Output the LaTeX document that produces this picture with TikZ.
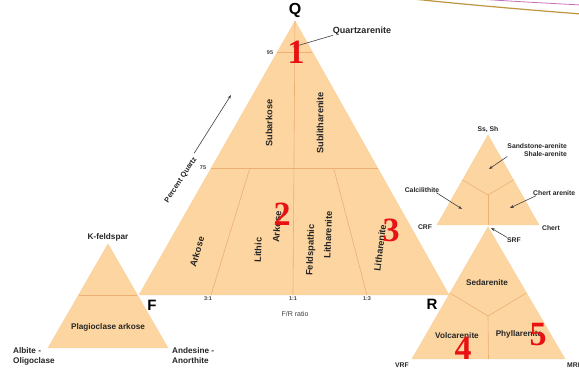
\documentclass[tikz,border=0pt]{standalone}
\usepackage{fontspec}
\setmainfont{Liberation Sans}
\newfontfamily\numfont{Liberation Serif}
\usepackage{xcolor}
\usetikzlibrary{arrows.meta,positioning,calc}

\definecolor{peach}{RGB}{253,213,160}
\definecolor{seam}{RGB}{236,176,116}
\definecolor{marker}{RGB}{232,18,18}
\definecolor{slidegold}{RGB}{190,150,60}
\definecolor{slidepink}{RGB}{200,110,190}

\begin{document}
\begin{tikzpicture}[x=1pt,y=-1pt,
  field/.style={fill=peach,draw=peach!85!seam,line width=0.4pt},
  seamline/.style={draw=seam,line width=0.6pt},
  lbl/.style={font=\bfseries\fontsize{8.2}{10}\selectfont,inner sep=0pt,text=black!85},
  biglbl/.style={font=\bfseries\fontsize{9.2}{10}\selectfont,inner sep=0pt,text=black!85},
  smalllbl/.style={font=\bfseries\fontsize{6.8}{7.6}\selectfont,inner sep=0pt,text=black!85},
  ratio/.style={font=\bfseries\fontsize{5.5}{6}\selectfont,inner sep=0pt,text=black!75},
  corner/.style={font=\bfseries\fontsize{15}{16}\selectfont,inner sep=0pt},
  num/.style={font=\numfont\bfseries\fontsize{34}{34}\selectfont,text=marker,inner sep=0pt},
  pointer/.style={-{Stealth[length=4pt,width=3pt]},line width=0.6pt,black!75},
  leader/.style={line width=0.6pt,black!75}
]
  \useasboundingbox[fill=white] (0,0) rectangle (579,371);

  % slide decoration, top right
  \draw[line width=1.2pt,slidegold] (413,-1) .. controls (470,5) and (530,10) .. (581,14);
  \draw[line width=0.8pt,slidepink] (477,-1) .. controls (525,2) .. (581,5);

  % QFR main triangle
  \coordinate (qQ) at (295,21);
  \coordinate (qF) at (139,295);
  \coordinate (qR) at (449,295);
  \coordinate (r31) at (211,295);
  \coordinate (r11) at (293,295);
  \coordinate (r13) at (367,295);
  \filldraw[field] (qQ) -- (qF) -- (qR) -- cycle;
  \draw[seamline] ($(qQ)!0.113!(qF)$) -- ($(qQ)!0.113!(qR)$);
  \draw[seamline] ($(qQ)!0.536!(qF)$) -- ($(qQ)!0.536!(qR)$);
  \draw[seamline] (qQ) -- (r11);
  \draw[seamline] ($(qQ)!0.536!(r31)$) -- (r31);
  \draw[seamline] ($(qQ)!0.536!(r13)$) -- (r13);

  \node[corner,font=\bfseries\fontsize{16}{17}\selectfont] (qlbl) at (295,10) {Q};
  \node[corner] (flbl) at (152,305) {F};
  \node[corner] (rlbl) at (432,304) {R};

  \node[lbl,font=\bfseries\fontsize{9}{10}\selectfont] (qtzlbl) at (362,31) {Quartzarenite};
  \coordinate (qtztip) at (293,47);
  \draw[leader] (qtzlbl.south west) -- (qtztip);

  \node[ratio] (p95) at (270,53) {95};
  \node[ratio] (p75) at (203,168) {75};
  \node[ratio] (t31) at (208,299) {3:1};
  \node[ratio] (t11) at (293,299) {1:1};
  \node[ratio] (t13) at (367,299) {1:3};
  \node[ratio,font=\fontsize{7}{8}\selectfont] (frlbl) at (295,314) {F/R ratio};

  \node[lbl,font=\bfseries\fontsize{7.4}{9}\selectfont,rotate=57] (pctlbl) at (181,180) {Percent Quartz};
  \coordinate (pqtip) at (231,95);
  \draw[pointer,shorten <=3pt] (pctlbl.north east) -- (pqtip);

  \node[biglbl,rotate=90] (subark) at (269,123) {Subarkose};
  \node[biglbl,rotate=90] (sublit) at (320,123) {Sublitharenite};
  \node[biglbl,rotate=74] (arkose) at (197,252) {Arkose};
  \node[biglbl,rotate=88] (lithic) at (258,250) {Lithic};
  \node[biglbl,rotate=86] (litark) at (277,227) {Arkose};
  \node[biglbl,rotate=88] (feldsp) at (311,250) {Feldspathic};
  \node[biglbl,rotate=88] (feldlit) at (328,235) {Litharenite};
  \node[biglbl,rotate=83] (lithar) at (380,248) {Litharenite};

  % feldspar triangle
  \coordinate (kA) at (108,244);
  \coordinate (kL) at (48,348);
  \coordinate (kR) at (168,348);
  \filldraw[field] (kA) -- (kL) -- (kR) -- cycle;
  \draw[seamline] ($(kA)!0.49!(kL)$) -- ($(kA)!0.49!(kR)$);
  \node[lbl] (kfeld) at (108,237) {K-feldspar};
  \node[lbl] (plagark) at (108,327) {Plagioclase arkose};
  \node[lbl,anchor=west,align=left] (albite) at (13,356) {Albite -\\Oligoclase};
  \node[lbl,anchor=west,align=left] (andes) at (172,356) {Andesine -\\Anorthite};

  % rock fragment triangle (CRF, chert)
  \coordinate (sA) at (488,135);
  \coordinate (sL) at (437,225);
  \coordinate (sR) at (539,225);
  \coordinate (sC) at (488,195);
  \filldraw[field] (sA) -- (sL) -- (sR) -- cycle;
  \draw[seamline] ($(sA)!0.5!(sL)$) -- (sC) -- ($(sA)!0.5!(sR)$);
  \draw[seamline] (sC) -- ($(sL)!0.5!(sR)$);
  \node[smalllbl] (sssh) at (488,130) {Ss, Sh};
  \node[smalllbl,anchor=east,align=right] (ssar) at (567,150) {Sandstone-arenite\\Shale-arenite};
  \node[smalllbl] (calc) at (422,190) {Calcilithite};
  \node[smalllbl,anchor=west] (chertar) at (533,193) {Chert arenite};
  \node[smalllbl] (crf) at (425,227) {CRF};
  \node[smalllbl] (chert) at (551,228) {Chert};
  \node[smalllbl] (srf) at (514,240) {SRF};
  \coordinate (sstip) at (489,169);
  \coordinate (calctip) at (462,209);
  \coordinate (cherttip) at (510,208);
  \coordinate (srftip) at (491,228);
  \draw[pointer] (ssar.south west) -- (sstip);
  \draw[pointer] ([xshift=-3pt]calc.south east) -- (calctip);
  \draw[pointer] ([xshift=3pt]chertar.south west) -- (cherttip);
  \draw[pointer] (srf.north west) -- (srftip);

  % rock fragment triangle (VRF, MRF)
  \coordinate (lA) at (488,227);
  \coordinate (lL) at (412,359);
  \coordinate (lR) at (565,359);
  \coordinate (lC) at (488,316);
  \filldraw[field] (lA) -- (lL) -- (lR) -- cycle;
  \draw[seamline] ($(lA)!0.5!(lL)$) -- (lC) -- ($(lA)!0.5!(lR)$);
  \draw[seamline] (lC) -- ($(lL)!0.5!(lR)$);
  \node[lbl] (sedar) at (487,283) {Sedarenite};
  \node[lbl] (volcar) at (457,336) {Volcarenite};
  \node[lbl] (phyll) at (519,334) {Phyllarenite};
  \node[smalllbl] (vrf) at (402,365) {VRF};
  \node[smalllbl,anchor=west] (mrf) at (567,365) {MRF};

  % red markers
  \node[num] (m1) at (296,52) {1};
  \node[num] (m2) at (282,214) {2};
  \node[num] (m3) at (391,230) {3};
  \node[num] (m4) at (463,348) {4};
  \node[num] (m5) at (538,335) {5};
\end{tikzpicture}
\end{document}
